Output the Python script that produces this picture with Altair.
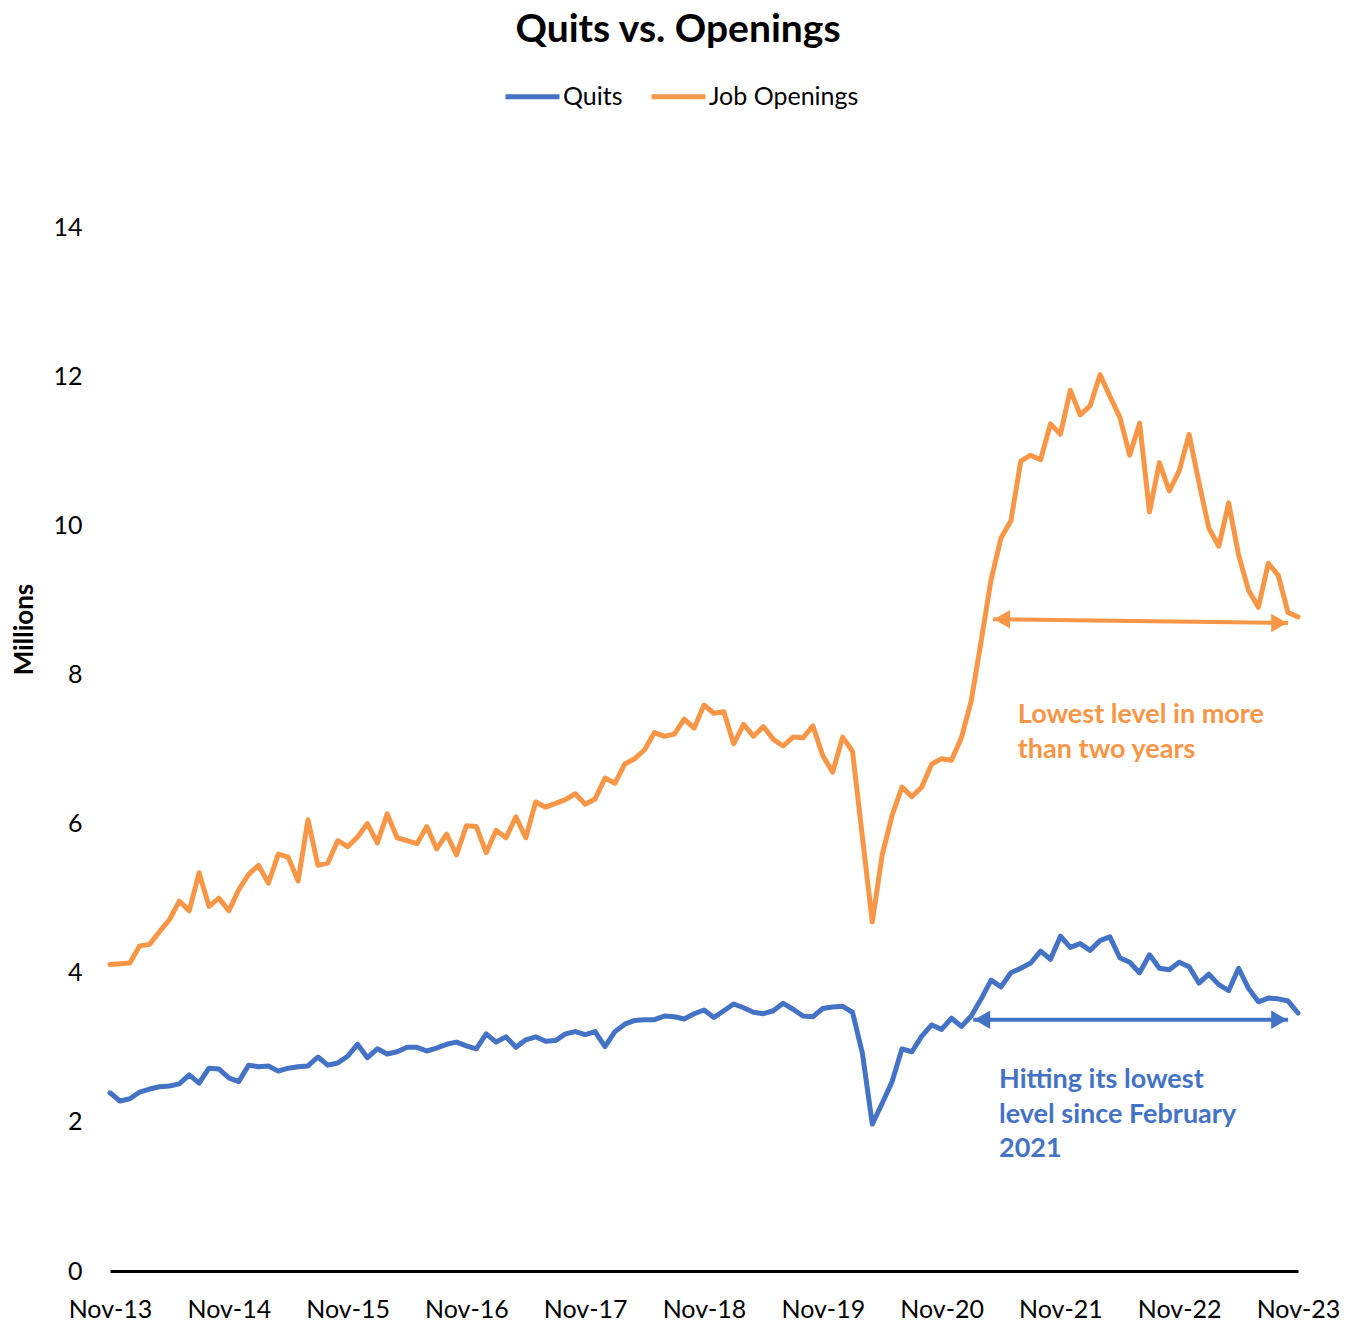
import altair as alt
import pandas as pd

# ---------------- data ----------------
x_tick_labels = ["Nov-13", "Nov-14", "Nov-15", "Nov-16", "Nov-17", "Nov-18",
                 "Nov-19", "Nov-20", "Nov-21", "Nov-22", "Nov-23"]

quits = [2.39, 2.28, 2.31, 2.40, 2.44, 2.47, 2.48, 2.51, 2.63, 2.52, 2.72, 2.71,
         2.59, 2.54, 2.76, 2.74, 2.75, 2.68, 2.72, 2.74, 2.75, 2.87, 2.76, 2.79,
         2.88, 3.04, 2.86, 2.98, 2.91, 2.94, 3.00, 3.00, 2.95, 2.99, 3.04, 3.07,
         3.02, 2.98, 3.18, 3.07, 3.14, 3.00, 3.10, 3.14, 3.08, 3.09, 3.18, 3.21,
         3.17, 3.21, 3.01, 3.21, 3.31, 3.36, 3.37, 3.37, 3.42, 3.41, 3.38, 3.45,
         3.50, 3.40, 3.49, 3.58, 3.53, 3.47, 3.45, 3.49, 3.59, 3.51, 3.42, 3.41,
         3.52, 3.54, 3.55, 3.47, 2.92, 1.97, 2.25, 2.54, 2.98, 2.94, 3.15, 3.30,
         3.24, 3.39, 3.28, 3.42, 3.65, 3.90, 3.81, 4.00, 4.06, 4.13, 4.29, 4.18,
         4.49, 4.34, 4.39, 4.30, 4.43, 4.48, 4.20, 4.14, 4.00, 4.24, 4.06, 4.04,
         4.14, 4.08, 3.86, 3.98, 3.84, 3.76, 4.06, 3.79, 3.61, 3.66, 3.65, 3.62,
         3.46]

openings = [4.11, 4.12, 4.13, 4.36, 4.38, 4.55, 4.71, 4.96, 4.83, 5.34, 4.89, 5.00,
            4.83, 5.11, 5.32, 5.44, 5.20, 5.59, 5.55, 5.23, 6.05, 5.44, 5.47, 5.77,
            5.69, 5.82, 6.00, 5.74, 6.13, 5.81, 5.77, 5.73, 5.96, 5.66, 5.86, 5.58,
            5.97, 5.96, 5.61, 5.91, 5.81, 6.09, 5.81, 6.29, 6.22, 6.27, 6.32, 6.40,
            6.26, 6.33, 6.61, 6.54, 6.80, 6.87, 6.99, 7.22, 7.17, 7.20, 7.40, 7.28,
            7.59, 7.48, 7.50, 7.07, 7.33, 7.17, 7.30, 7.13, 7.04, 7.16, 7.15, 7.31,
            6.91, 6.69, 7.16, 6.97, 5.82, 4.68, 5.58, 6.11, 6.49, 6.36, 6.49, 6.80,
            6.87, 6.85, 7.15, 7.65, 8.45, 9.27, 9.83, 10.06, 10.86, 10.94, 10.88, 11.36,
            11.22, 11.81, 11.48, 11.60, 12.02, 11.73, 11.45, 10.94, 11.37, 10.18, 10.84, 10.46,
            10.73, 11.22, 10.57, 9.96, 9.72, 10.30, 9.60, 9.13, 8.90, 9.49, 9.33, 8.83,
            8.77]

series_names = ["Quits", "Job Openings"]
series_colors = ["#4472C4", "#F79646"]

# annotation arrows (month index / millions)
arrow_series = ["Job Openings", "Quits"]
arrow_x_start = [89.2, 87.2]
arrow_x_end = [119.0, 119.0]
arrow_y_start = [8.74, 3.37]
arrow_y_end = [8.69, 3.37]

# annotation texts
note_series = ["Job Openings", "Job Openings", "Quits", "Quits", "Quits"]
note_lines = ["Lowest level in more", "than two years",
              "Hitting its lowest", "level since February", "2021"]
note_x = [91.7, 91.7, 89.8, 89.8, 89.8]
note_y = [7.45, 6.98, 2.56, 2.09, 1.63]

FONT = "Lato"

# ---------------- tables ----------------
n = len(quits)
df = pd.DataFrame({
    "month": list(range(n)) * 2,
    "value": quits + openings,
    "series": ["Quits"] * n + ["Job Openings"] * n,
})

arrows = pd.DataFrame({
    "series": arrow_series,
    "x0": arrow_x_start, "x1": arrow_x_end,
    "y0": arrow_y_start, "y1": arrow_y_end,
})
heads = pd.DataFrame({
    "series": arrow_series * 2,
    "x": [a + 0.9 for a in arrow_x_start] + [b - 0.9 for b in arrow_x_end],
    "y": arrow_y_start + arrow_y_end,
    "shape": ["triangle-left"] * len(arrow_series) + ["triangle-right"] * len(arrow_series),
})
notes = pd.DataFrame({"series": note_series, "text": note_lines, "x": note_x, "y": note_y})

tick_vals = [12 * i for i in range(len(x_tick_labels))]
label_expr = "[" + ",".join("'%s'" % l for l in x_tick_labels) + "][round(datum.value / 12)]"

x_scale = alt.Scale(domain=[0, n - 1], nice=False, zero=False)
y_scale = alt.Scale(domain=[0, 14], nice=False)
c_scale = alt.Scale(domain=series_names, range=series_colors)

x_axis = alt.Axis(values=tick_vals, labelExpr=label_expr, title=None, grid=False,
                  ticks=False, domainColor="black", domainWidth=3, labelFontSize=25,
                  labelFont=FONT, labelColor="black", labelPadding=26, labelFlush=False)
y_axis = alt.Axis(values=list(range(0, 15, 2)), format="d", grid=False, domain=False,
                  ticks=False, title="Millions", titleFont=FONT, titleFontSize=26,
                  titleFontWeight="bold", titleColor="black", titlePadding=15,
                  titleY=402, labelFont=FONT, labelFontSize=25, labelColor="black",
                  labelPadding=28)

lines = alt.Chart(df).mark_line(strokeWidth=5, strokeJoin="round", strokeCap="round").encode(
    x=alt.X("month:Q", scale=x_scale, axis=x_axis),
    y=alt.Y("value:Q", scale=y_scale, axis=y_axis),
    color=alt.Color("series:N", scale=c_scale, sort=series_names,
                    legend=alt.Legend(orient="none", legendX=393, legendY=-160,
                                      direction="horizontal", title=None,
                                      symbolType="stroke", symbolStrokeWidth=5,
                                      symbolSize=2916, labelFont=FONT, labelFontSize=25,
                                      labelColor="black", labelOffset=1,
                                      columnPadding=18)),
    order="month:Q",
)

arrow_lines = alt.Chart(arrows).mark_rule(strokeWidth=4).encode(
    x=alt.X("x0:Q", scale=x_scale), x2="x1:Q",
    y=alt.Y("y0:Q", scale=y_scale), y2="y1:Q",
    color=alt.Color("series:N", scale=c_scale, legend=None),
)
arrow_heads = alt.Chart(heads).mark_point(filled=True, opacity=1, size=340).encode(
    x=alt.X("x:Q", scale=x_scale),
    y=alt.Y("y:Q", scale=y_scale),
    shape=alt.Shape("shape:N", scale=None),
    color=alt.Color("series:N", scale=c_scale, legend=None),
)
note_text = alt.Chart(notes).mark_text(align="left", baseline="middle", font=FONT,
                                       fontSize=27, fontWeight="bold").encode(
    x=alt.X("x:Q", scale=x_scale),
    y=alt.Y("y:Q", scale=y_scale),
    text="text:N",
    color=alt.Color("series:N", scale=c_scale, legend=None),
)

chart = alt.layer(lines, arrow_lines, arrow_heads, note_text).properties(
    width=1188, height=1044,
    autosize=alt.AutoSizeParams(type="none"),
    padding={"left": 102, "top": 219, "right": 46, "bottom": 55},
    title=alt.TitleParams("Quits vs. Openings", font=FONT, fontSize=39, fontWeight="bold",
                          color="black", anchor="middle", dx=-26, offset=17),
).configure(background="white").configure_view(stroke=None)

chart.save("out.html", embed_options={"renderer": "svg", "actions": False})
